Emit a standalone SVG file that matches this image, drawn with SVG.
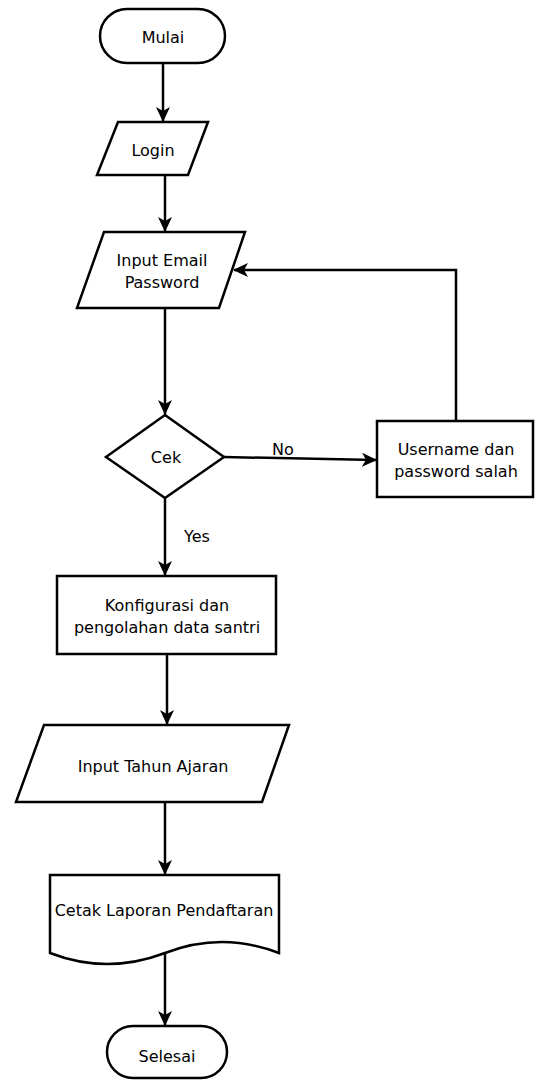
<svg xmlns="http://www.w3.org/2000/svg" width="536" height="1080" viewBox="0 0 536 1080">
<style>
.s{fill:#fff;stroke:#000;stroke-width:2.5}
.t{font-family:"DejaVu Sans",Verdana,sans-serif;font-size:16px;fill:#000;text-anchor:middle}
.c{fill:none;stroke:#000;stroke-width:2.5}
</style>
<defs>
<marker id="a" viewBox="0 0 15 14" refX="14" refY="7" markerWidth="15" markerHeight="14" markerUnits="userSpaceOnUse" orient="auto">
<path d="M0,0 L15,7 L0,14 L4,7 Z" fill="#000"/>
</marker>
</defs>
<rect width="536" height="1080" fill="#fff"/>
<g id="connectors">
<line class="c" x1="163" y1="63" x2="163" y2="121" marker-end="url(#a)"/>
<line class="c" x1="165" y1="175" x2="165" y2="231" marker-end="url(#a)"/>
<line class="c" x1="165" y1="308" x2="165" y2="414" marker-end="url(#a)"/>
<line class="c" x1="224" y1="457" x2="376" y2="460" marker-end="url(#a)"/>
<polyline class="c" points="456,421 456,270 234,270" marker-end="url(#a)"/>
<line class="c" x1="165" y1="498" x2="165" y2="575" marker-end="url(#a)"/>
<line class="c" x1="167" y1="654" x2="167" y2="724" marker-end="url(#a)"/>
<line class="c" x1="165" y1="802" x2="165" y2="874" marker-end="url(#a)"/>
<line class="c" x1="165" y1="952" x2="165" y2="1025" marker-end="url(#a)"/>
<text class="t" x="283" y="455">No</text>
<text class="t" x="197" y="542">Yes</text>
</g>
<g id="mulai">
<rect class="s" x="100" y="9" width="125" height="54" rx="27" ry="27"/>
<text class="t" x="163" y="43">Mulai</text>
</g>
<g id="login">
<polygon class="s" points="118,122 208,122 188,175 97,175"/>
<text class="t" x="153" y="156">Login</text>
</g>
<g id="input-email">
<polygon class="s" points="104,232 245,232 219,308 77,308"/>
<text class="t" x="162" y="266">Input Email</text>
<text class="t" x="162" y="288">Password</text>
</g>
<g id="cek">
<polygon class="s" points="165,415 224,457 165,498 106,457"/>
<text class="t" x="166" y="463">Cek</text>
</g>
<g id="salah">
<rect class="s" x="377" y="421" width="156" height="76"/>
<text class="t" x="456" y="455">Username dan</text>
<text class="t" x="456" y="477">password salah</text>
</g>
<g id="konfigurasi">
<rect class="s" x="57" y="576" width="219" height="78"/>
<text class="t" x="167" y="611">Konfigurasi dan</text>
<text class="t" x="167" y="633">pengolahan data santri</text>
</g>
<g id="input-tahun">
<polygon class="s" points="44,725 289,725 262,802 16,802"/>
<text class="t" x="153" y="772">Input Tahun Ajaran</text>
</g>
<g id="cetak">
<path class="s" d="M50,875 H279 V953 Q222,931 165,953 Q107,975 50,953 Z"/>
<text class="t" x="164" y="916">Cetak Laporan Pendaftaran</text>
</g>
<g id="selesai">
<rect class="s" x="107" y="1026" width="120" height="52" rx="26" ry="26"/>
<text class="t" x="167" y="1062">Selesai</text>
</g>
</svg>
